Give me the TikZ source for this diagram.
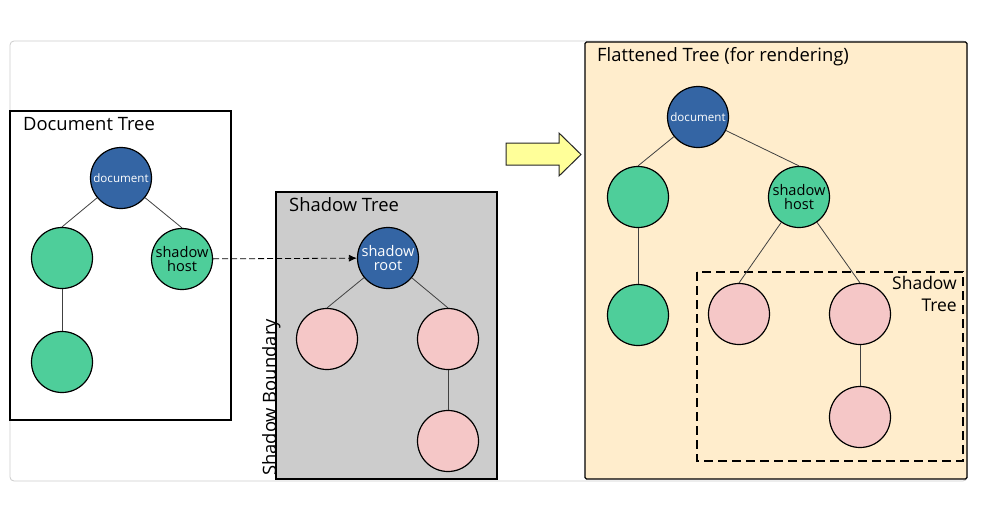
\documentclass[tikz,border=0pt]{standalone}
\usepackage{fontspec}
\setmainfont{Open Sans}
\usetikzlibrary{arrows.meta}
\definecolor{nblue}{RGB}{52,101,164}
\definecolor{ngreen}{RGB}{78,206,154}
\definecolor{npink}{RGB}{245,199,199}
\definecolor{bgray}{RGB}{204,204,204}
\definecolor{bcream}{RGB}{255,237,204}
\definecolor{ayellow}{RGB}{255,255,153}
\tikzset{
  tnode/.style={circle, draw=black, line width=1.2pt, minimum size=61pt, inner sep=0pt, align=center},
  bluenode/.style={tnode, fill=nblue, text=white},
  greennode/.style={tnode, fill=ngreen, text=black},
  pinknode/.style={tnode, fill=npink},
  edge/.style={draw=black!75, line width=0.8pt},
  panel/.style={draw=black, line width=1.2pt},
  ptitle/.style={anchor=base west, inner sep=0pt, font=\fontsize{18.4}{20}\selectfont},
  smalltxt/.style={font=\fontsize{11.6}{13}\selectfont},
  midtxt/.style={font=\fontsize{14.6}{16}\selectfont},
}
\begin{document}
\begin{tikzpicture}[x=1pt,y=-1pt]
\useasboundingbox (0,0) rectangle (983,504);
\fill[white] (0,0) rectangle (983,504);
% outer frame
\draw[black!20, line width=0.8pt, rounded corners=4pt] (10,41) rectangle (967,481);

% Document tree panel
\draw[panel, fill=white] (10,111) rectangle (231,420);
\node[ptitle] (dtt) at (23,130) {Document Tree};
\node[bluenode, smalltxt] (d1) at (121,178) {document};
\node[greennode] (d2) at (62,258) {};
\node[greennode, midtxt] (d3) at (182,259) {shadow\\[-2pt]host};
\node[greennode] (d4) at (62,362) {};
\draw[edge] (d1) -- (d2.north);
\draw[edge] (d1) -- (d3.north);
\draw[edge] (d2) -- (d4);

% Shadow tree panel
\draw[panel, fill=bgray] (276,192) rectangle (497,479);
\node[ptitle] (stt) at (289,211) {Shadow Tree};
\node[bluenode, midtxt] (s1) at (388,258) {shadow\\[-2pt]root};
\node[pinknode] (s2) at (327,339) {};
\node[pinknode] (s3) at (448,339) {};
\node[pinknode] (s4) at (448,441) {};
\draw[edge] (s1) -- (s2.north);
\draw[edge] (s1) -- (s3.north);
\draw[edge] (s3) -- (s4);
\node[ptitle, rotate=90] (sb) at (276,476) {Shadow Boundary};

% dashed connection
\draw[dash pattern=on 6pt off 3pt, line width=0.8pt, -{Latex[length=8pt,width=7pt]}] (d3) -- (s1);

% yellow arrow
\draw[fill=ayellow, draw=black!85, line width=1pt] (506,143) -- (559,143) -- (559,133) -- (581,154.5) -- (559,176) -- (559,165) -- (506,165) -- cycle;

% Flattened tree panel
\draw[panel, fill=bcream, rounded corners=1.5pt] (585,42) rectangle (967,479);
\node[ptitle] (ftt) at (597,61) {Flattened Tree (for rendering)};
\node[bluenode, smalltxt] (f1) at (698,117) {document};
\node[greennode] (f2) at (638,197) {};
\node[greennode, midtxt] (f3) at (799,197) {shadow\\[-2pt]host};
\node[greennode] (f4) at (638,315) {};
\draw[edge] (f1) -- (f2.north);
\draw[edge] (f1) -- (f3.north);
\draw[edge] (f2) -- (f4);
\draw[dash pattern=on 9pt off 5pt, line width=1.2pt] (697,272) rectangle (963,461);
\node[pinknode] (f5) at (739,314) {};
\node[pinknode] (f6) at (860,314) {};
\node[pinknode] (f7) at (860,417) {};
\draw[edge] (f3) -- (f5.north);
\draw[edge] (f3) -- (f6.north);
\draw[edge] (f6) -- (f7);
\node[anchor=north east, align=right, inner sep=0pt, font=\fontsize{17.5}{22}\selectfont] (fst) at (957,276) {Shadow\\Tree};
\end{tikzpicture}
\end{document}
